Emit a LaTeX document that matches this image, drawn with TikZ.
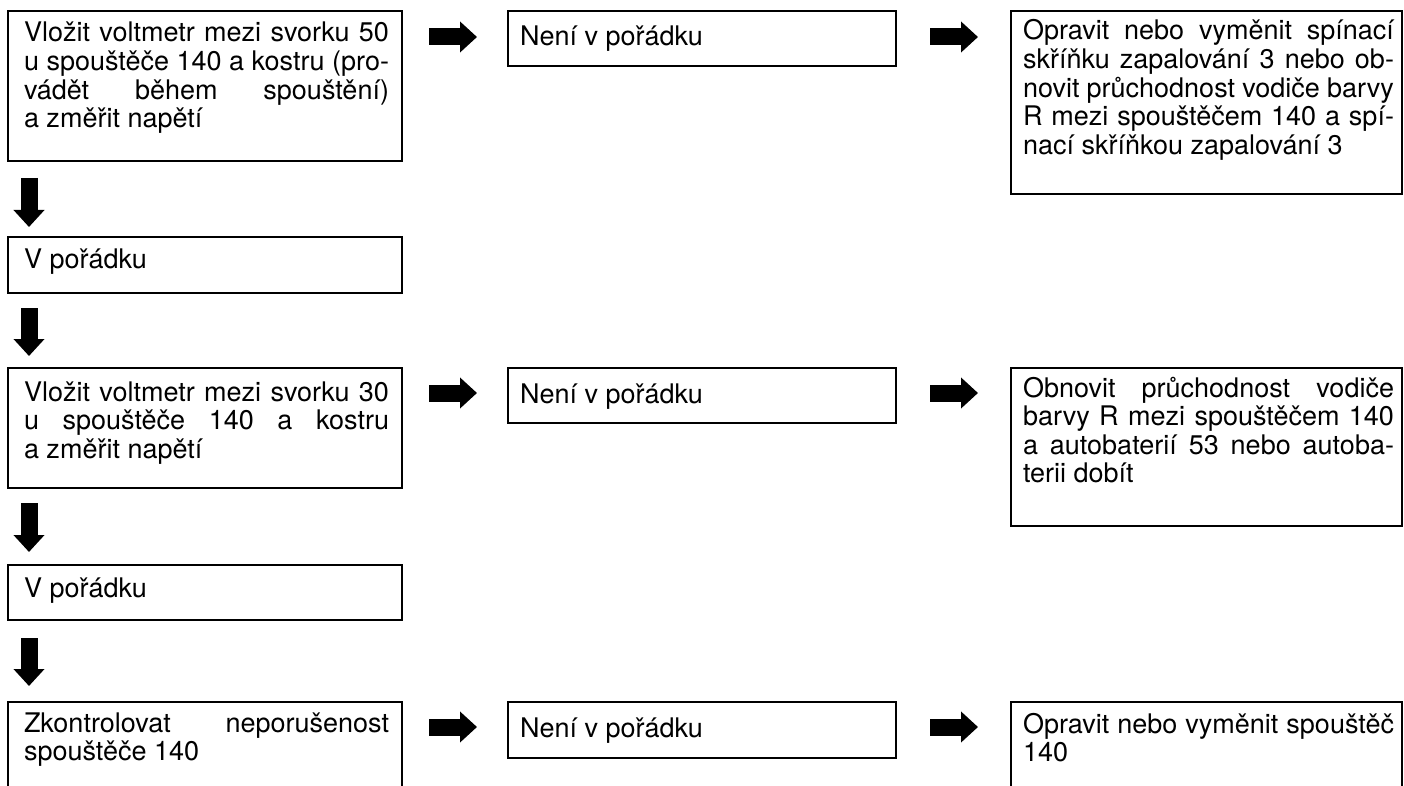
\documentclass[tikz,border=0pt]{standalone}
\usepackage{fontspec}
\setmainfont{TeX Gyre Heros}
\usetikzlibrary{arrows.meta}
% one fully justified line of a box text
\newcommand\jl[1]{\makebox[\linewidth][s]{#1}\\}
\begin{document}
\begin{tikzpicture}[x=1pt,y=-1pt,
  stepbox/.style={draw=black, line width=1.1pt, shape=rectangle, anchor=north west,
    inner sep=0pt, outer sep=0pt},
  txt/.style={anchor=base west, inner sep=0pt, outer sep=0pt,
    font=\fontsize{27}{28.6}\selectfont},
  bigarrow/.style={line width=17pt, -{Triangle[width=30pt,length=17pt]}}]
\clip (0,0) rectangle (1404,786);
\fill[white] (0,0) rectangle (1404,786);

% row 1
\node[stepbox, minimum width=394pt, minimum height=150pt] (A1) at (8,11) {};
\node[txt] (A1t) at ([xshift=16pt,yshift=-31pt]A1.north west) {\parbox[t]{365pt}{%
  \jl{Vložit voltmetr mezi svorku 50}\jl{u spouštěče 140 a kostru (pro-}\jl{vádět během spouštění)}a změřit napětí}};
\node[stepbox, minimum width=388pt, minimum height=55pt] (B1) at (508,11) {};
\node[txt] (B1t) at ([xshift=12pt,yshift=-35pt]B1.north west) {Není v pořádku};
\node[stepbox, minimum width=391pt, minimum height=183pt] (C1) at (1011,11) {};
\node[txt] (C1t) at ([xshift=12pt,yshift=-29pt]C1.north west) {\parbox[t]{371pt}{%
  \jl{Opravit nebo vyměnit spínací}\jl{skříňku zapalování 3 nebo ob-}\jl{novit průchodnost vodiče barvy}\jl{R mezi spouštěčem 140 a spí-}nací skříňkou zapalování 3}};

% row 2
\node[stepbox, minimum width=394pt, minimum height=56pt] (A2) at (8,237) {};
\node[txt] (A2t) at ([xshift=16pt,yshift=-32pt]A2.north west) {V pořádku};

% row 3
\node[stepbox, minimum width=394pt, minimum height=120pt] (A3) at (8,368) {};
\node[txt] (A3t) at ([xshift=16pt,yshift=-33pt]A3.north west) {\parbox[t]{365pt}{%
  \jl{Vložit voltmetr mezi svorku 30}\jl{u spouštěče 140 a kostru}a změřit napětí}};
\node[stepbox, minimum width=388pt, minimum height=55pt] (B3) at (508,368) {};
\node[txt] (B3t) at ([xshift=12pt,yshift=-35pt]B3.north west) {Není v pořádku};
\node[stepbox, minimum width=391pt, minimum height=158pt] (C3) at (1011,368) {};
\node[txt] (C3t) at ([xshift=12pt,yshift=-29pt]C3.north west) {\parbox[t]{371pt}{%
  \jl{Obnovit průchodnost vodiče}\jl{barvy R mezi spouštěčem 140}\jl{a autobaterií 53 nebo autoba-}terii dobít}};

% row 4
\node[stepbox, minimum width=394pt, minimum height=55pt] (A4) at (8,565) {};
\node[txt] (A4t) at ([xshift=16pt,yshift=-32pt]A4.north west) {V pořádku};

% row 5 (runs past the lower edge)
\node[stepbox, minimum width=394pt, minimum height=120pt] (A5) at (8,702) {};
\node[txt] (A5t) at ([xshift=16pt,yshift=-30pt]A5.north west) {\parbox[t]{365pt}{%
  \jl{Zkontrolovat neporušenost}spouštěče 140}};
\node[stepbox, minimum width=388pt, minimum height=56pt] (B5) at (508,702) {};
\node[txt] (B5t) at ([xshift=12pt,yshift=-35pt]B5.north west) {Není v pořádku};
\node[stepbox, minimum width=391pt, minimum height=120pt] (C5) at (1011,702) {};
\node[txt] (C5t) at ([xshift=12pt,yshift=-31pt]C5.north west) {\parbox[t]{371pt}{%
  \jl{Opravit nebo vyměnit spouštěč}140}};

% horizontal arrows
\draw[bigarrow, shorten <=27pt, shorten >=31pt] ([yshift=-26pt]A1.north east) -- ([yshift=-26pt]B1.north west);
\draw[bigarrow, shorten <=34pt, shorten >=33pt] ([yshift=-26pt]B1.north east) -- ([yshift=-26pt]C1.north west);
\draw[bigarrow, shorten <=27pt, shorten >=31pt] ([yshift=-25pt]A3.north east) -- ([yshift=-25pt]B3.north west);
\draw[bigarrow, shorten <=34pt, shorten >=33pt] ([yshift=-25pt]B3.north east) -- ([yshift=-25pt]C3.north west);
\draw[bigarrow, shorten <=27pt, shorten >=31pt] ([yshift=-25pt]A5.north east) -- ([yshift=-25pt]B5.north west);
\draw[bigarrow, shorten <=34pt, shorten >=33pt] ([yshift=-25pt]B5.north east) -- ([yshift=-25pt]C5.north west);

% vertical arrows
\draw[bigarrow, shorten <=17pt, shorten >=10pt] ([xshift=21pt]A1.south west) -- ([xshift=21pt]A2.north west);
\draw[bigarrow, shorten <=15pt, shorten >=12pt] ([xshift=21pt]A2.south west) -- ([xshift=21pt]A3.north west);
\draw[bigarrow, shorten <=15pt, shorten >=13pt] ([xshift=21pt]A3.south west) -- ([xshift=21pt]A4.north west);
\draw[bigarrow, shorten <=18pt, shorten >=16pt] ([xshift=21pt]A4.south west) -- ([xshift=21pt]A5.north west);
\end{tikzpicture}
\end{document}
